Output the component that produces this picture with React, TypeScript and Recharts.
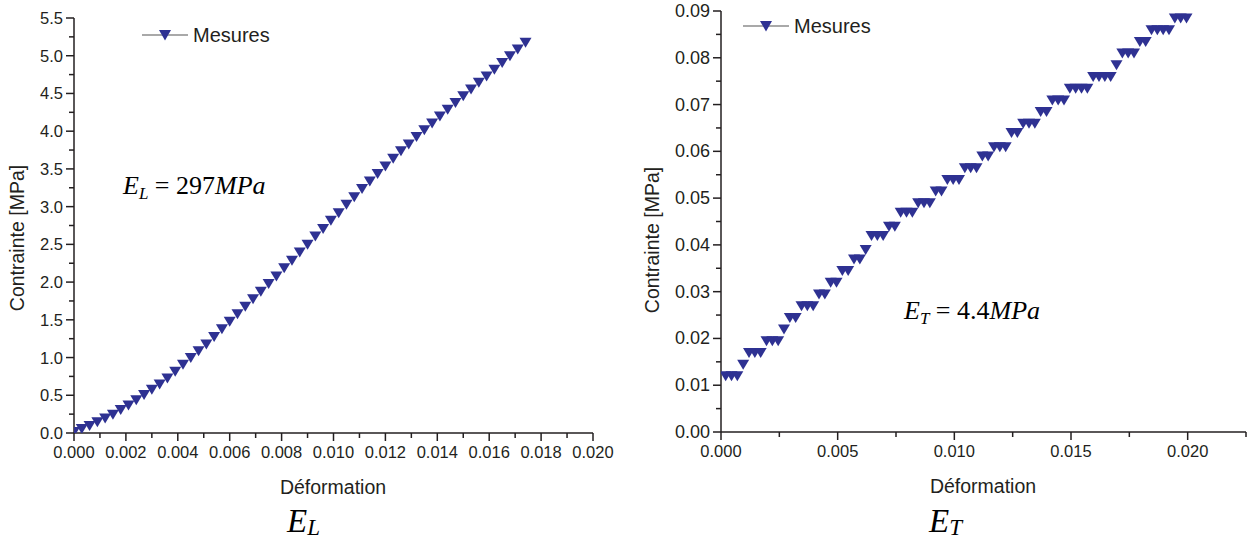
import React from 'react';
import { ScatterChart, Scatter, XAxis, YAxis } from 'recharts';

// Essai longitudinal (E_L)
const strainL = [
  0, 0.0003, 0.0006, 0.0009, 0.0012, 0.0015, 0.0018, 0.0021, 0.0024, 0.0027,
  0.003, 0.0033, 0.0036, 0.0039, 0.0042, 0.0045, 0.0048, 0.0051, 0.0054, 0.0057,
  0.006, 0.0063, 0.0066, 0.0069, 0.0072, 0.0075, 0.0078, 0.0081, 0.0084, 0.0087,
  0.009, 0.0093, 0.0096, 0.0099, 0.0102, 0.0105, 0.0108, 0.0111, 0.0114, 0.0117,
  0.012, 0.0123, 0.0126, 0.0129, 0.0132, 0.0135, 0.0138, 0.0141, 0.0144, 0.0147,
  0.015, 0.0153, 0.0156, 0.0159, 0.0162, 0.0165, 0.0168, 0.0171, 0.0174,
];
const stressL = [
  0.02, 0.06, 0.1, 0.15, 0.2, 0.25, 0.31, 0.37, 0.44, 0.51,
  0.58, 0.65, 0.73, 0.82, 0.91, 1.0, 1.09, 1.18, 1.28, 1.38,
  1.48, 1.58, 1.68, 1.78, 1.88, 1.98, 2.08, 2.19, 2.29, 2.4,
  2.5, 2.61, 2.71, 2.82, 2.92, 3.03, 3.13, 3.24, 3.34, 3.44,
  3.54, 3.64, 3.74, 3.83, 3.93, 4.02, 4.11, 4.2, 4.29, 4.38,
  4.47, 4.56, 4.65, 4.73, 4.82, 4.91, 5.0, 5.09, 5.18,
];

// Essai transversal (E_T)
const strainT = [
  0.0002, 0.00045, 0.0007, 0.00095, 0.0012, 0.00145, 0.0017, 0.00195, 0.0022, 0.00245,
  0.0027, 0.00295, 0.0032, 0.00345, 0.0037, 0.00395, 0.0042, 0.00445, 0.0047, 0.00495,
  0.0052, 0.00545, 0.0057, 0.00595, 0.0062, 0.00645, 0.0067, 0.00695, 0.0072, 0.00745,
  0.0077, 0.00795, 0.0082, 0.00845, 0.0087, 0.00895, 0.0092, 0.00945, 0.0097, 0.00995,
  0.0102, 0.01045, 0.0107, 0.01095, 0.0112, 0.01145, 0.0117, 0.01195, 0.0122, 0.01245,
  0.0127, 0.01295, 0.0132, 0.01345, 0.0137, 0.01395, 0.0142, 0.01445, 0.0147, 0.01495,
  0.0152, 0.01545, 0.0157, 0.01595, 0.0162, 0.01645, 0.0167, 0.01695, 0.0172, 0.01745,
  0.0177, 0.01795, 0.0182, 0.01845, 0.0187, 0.01895, 0.0192, 0.01945, 0.0197, 0.01995,
];
const stressT = [
  0.012, 0.012, 0.012, 0.0145, 0.017, 0.017, 0.017, 0.0195, 0.0195, 0.0195,
  0.022, 0.0245, 0.0245, 0.027, 0.027, 0.027, 0.0295, 0.0295, 0.032, 0.032,
  0.0345, 0.0345, 0.037, 0.037, 0.039, 0.042, 0.042, 0.042, 0.044, 0.044,
  0.047, 0.047, 0.047, 0.049, 0.049, 0.049, 0.0515, 0.0515, 0.054, 0.054,
  0.054, 0.0565, 0.0565, 0.0565, 0.059, 0.059, 0.061, 0.061, 0.061, 0.064,
  0.064, 0.066, 0.066, 0.066, 0.0685, 0.0685, 0.071, 0.071, 0.071, 0.0735,
  0.0735, 0.0735, 0.0735, 0.076, 0.076, 0.076, 0.076, 0.0785, 0.081, 0.081,
  0.081, 0.0835, 0.0835, 0.086, 0.086, 0.086, 0.086, 0.0885, 0.0885, 0.0885,
];

// graduations
const xMajorL = [0, 0.002, 0.004, 0.006, 0.008, 0.01, 0.012, 0.014, 0.016, 0.018, 0.02];
const xMinorL = [0.001, 0.003, 0.005, 0.007, 0.009, 0.011, 0.013, 0.015, 0.017, 0.019];
const yMajorL = [0, 0.5, 1, 1.5, 2, 2.5, 3, 3.5, 4, 4.5, 5, 5.5];
const yMinorL = [0.25, 0.75, 1.25, 1.75, 2.25, 2.75, 3.25, 3.75, 4.25, 4.75, 5.25];
const xMajorT = [0, 0.005, 0.01, 0.015, 0.02];
const xMinorT = [0.0025, 0.0075, 0.0125, 0.0175, 0.0225];
const yMajorT = [0, 0.01, 0.02, 0.03, 0.04, 0.05, 0.06, 0.07, 0.08, 0.09];
const yMinorT = [0.005, 0.015, 0.025, 0.035, 0.045, 0.055, 0.065, 0.075, 0.085];

const FONT = '"Liberation Sans", Arial, Helvetica, sans-serif';
const SERIF = '"Liberation Serif", "Times New Roman", serif';
const BLUE = '#2e3192';
const INK = '#231f20';

const dataL = strainL.map((x, i) => ({ x, y: stressL[i] }));
const dataT = strainT.map((x, i) => ({ x, y: stressT[i] }));

const sortTicks = (a: number[], b: number[]) => [...a, ...b].sort((p, q) => p - q);
const isIn = (list: number[], v: number) => list.some((m) => Math.abs(m - v) < 1e-9);

const Tri = (props: any) => {
  const { cx, cy } = props;
  if (cx == null || cy == null) return null;
  return <path d={`M${cx - 6},${cy - 4.5}L${cx + 6},${cy - 4.5}L${cx},${cy + 5.5}Z`} fill={BLUE} />;
};

const makeXTick = (major: number[], digits: number) => (props: any) => {
  const { x, y, payload } = props;
  const big = isIn(major, payload.value);
  return (
    <g>
      <line x1={x} y1={y} x2={x} y2={y + (big ? 8 : 5)} stroke={INK} strokeWidth={1.5} />
      {big && (
        <text x={x} y={y + 25} textAnchor="middle" fontSize={16.5} fill={INK} fontFamily={FONT}>
          {payload.value.toFixed(digits)}
        </text>
      )}
    </g>
  );
};

const makeYTick = (major: number[], digits: number, size: number) => (props: any) => {
  const { x, y, payload } = props;
  const big = isIn(major, payload.value);
  return (
    <g>
      <line x1={x} y1={y} x2={x - (big ? 8 : 5)} y2={y} stroke={INK} strokeWidth={1.5} />
      {big && (
        <text x={x - 11} y={y + 6} textAnchor="end" fontSize={size} fill={INK} fontFamily={FONT}>
          {payload.value.toFixed(digits)}
        </text>
      )}
    </g>
  );
};

const Legend = ({ left, top }: { left: number; top: number }) => (
  <g transform={`translate(${left},${top})`}>
    <line x1={0} y1={0} x2={46} y2={0} stroke="#555" strokeWidth={1.2} />
    <path d="M17,-5L29,-5L23,5.5Z" fill={BLUE} />
    <text x={51} y={7} fontFamily={FONT} fontSize={20} fill={INK}>
      Mesures
    </text>
  </g>
);

export default function App() {
  const axisLine = { stroke: INK, strokeWidth: 1.5 };
  return (
    <div style={{ position: 'absolute', left: 0, top: 0, width: 1256, height: 541, background: '#fff' }}>
      <div style={{ position: 'absolute', left: 0, top: 0 }}>
        <ScatterChart width={628} height={541} margin={{ top: 18, right: 35, left: 0, bottom: 78 }}>
          <XAxis
            type="number"
            dataKey="x"
            domain={[0, 0.02]}
            ticks={sortTicks(xMajorL, xMinorL)}
            interval={0}
            tickSize={0}
            tickMargin={0}
            axisLine={axisLine}
            tickLine={false}
            tick={makeXTick(xMajorL, 3)}
            height={30}
            allowDataOverflow
          />
          <YAxis
            type="number"
            dataKey="y"
            domain={[0, 5.5]}
            ticks={sortTicks(yMajorL, yMinorL)}
            interval={0}
            tickSize={0}
            tickMargin={0}
            axisLine={axisLine}
            tickLine={false}
            tick={makeYTick(yMajorL, 1, 16.5)}
            width={74}
            allowDataOverflow
          />
          <Scatter data={dataL} dataKey="y" shape={Tri} isAnimationActive={false} />
        </ScatterChart>
      </div>
      <div style={{ position: 'absolute', left: 628, top: 0 }}>
        <ScatterChart width={628} height={541} margin={{ top: 11, right: 10, left: 0, bottom: 79 }}>
          <XAxis
            type="number"
            dataKey="x"
            domain={[0, 0.0225]}
            ticks={sortTicks(xMajorT, xMinorT)}
            interval={0}
            tickSize={0}
            tickMargin={0}
            axisLine={axisLine}
            tickLine={false}
            tick={makeXTick(xMajorT, 3)}
            height={30}
            allowDataOverflow
          />
          <YAxis
            type="number"
            dataKey="y"
            domain={[0, 0.09]}
            ticks={sortTicks(yMajorT, yMinorT)}
            interval={0}
            tickSize={0}
            tickMargin={0}
            axisLine={axisLine}
            tickLine={false}
            tick={makeYTick(yMajorT, 2, 18)}
            width={93}
            allowDataOverflow
          />
          <Scatter data={dataT} dataKey="y" shape={Tri} isAnimationActive={false} />
        </ScatterChart>
      </div>

      <svg
        width={1256}
        height={541}
        style={{ position: 'absolute', left: 0, top: 0, pointerEvents: 'none' }}
      >
        <Legend left={142} top={35} />
        <Legend left={743} top={26} />

        {/* axis titles */}
        <text x={24} y={238} transform="rotate(-90 24 238)" textAnchor="middle" fontFamily={FONT} fontSize={19.5} fill={INK}>
          Contrainte [MPa]
        </text>
        <text x={659} y={240} transform="rotate(-90 659 240)" textAnchor="middle" fontFamily={FONT} fontSize={19.5} fill={INK}>
          Contrainte [MPa]
        </text>
        <text x={333} y={494} textAnchor="middle" fontFamily={FONT} fontSize={19.5} fill={INK}>
          Déformation
        </text>
        <text x={983} y={493} textAnchor="middle" fontFamily={FONT} fontSize={19.5} fill={INK}>
          Déformation
        </text>

        {/* modules */}
        <text x={123} y={194} fontFamily={SERIF} fontSize={26} fill="#000">
          <tspan fontStyle="italic">E</tspan>
          <tspan fontStyle="italic" fontSize={17} dy={5}>L</tspan>
          <tspan dy={-5}> = 297</tspan>
          <tspan fontStyle="italic">MPa</tspan>
        </text>
        <text x={904} y={319} fontFamily={SERIF} fontSize={26} fill="#000">
          <tspan fontStyle="italic">E</tspan>
          <tspan fontStyle="italic" fontSize={17} dy={5}>T</tspan>
          <tspan dy={-5}> = 4.4</tspan>
          <tspan fontStyle="italic">MPa</tspan>
        </text>

        {/* sous-titres */}
        <text x={287} y={532} fontFamily={SERIF} fontSize={33} fill="#000">
          <tspan fontStyle="italic">E</tspan>
          <tspan fontStyle="italic" fontSize={23} dy={3}>L</tspan>
        </text>
        <text x={929} y={532} fontFamily={SERIF} fontSize={33} fill="#000">
          <tspan fontStyle="italic">E</tspan>
          <tspan fontStyle="italic" fontSize={23} dy={3}>T</tspan>
        </text>
      </svg>
    </div>
  );
}
